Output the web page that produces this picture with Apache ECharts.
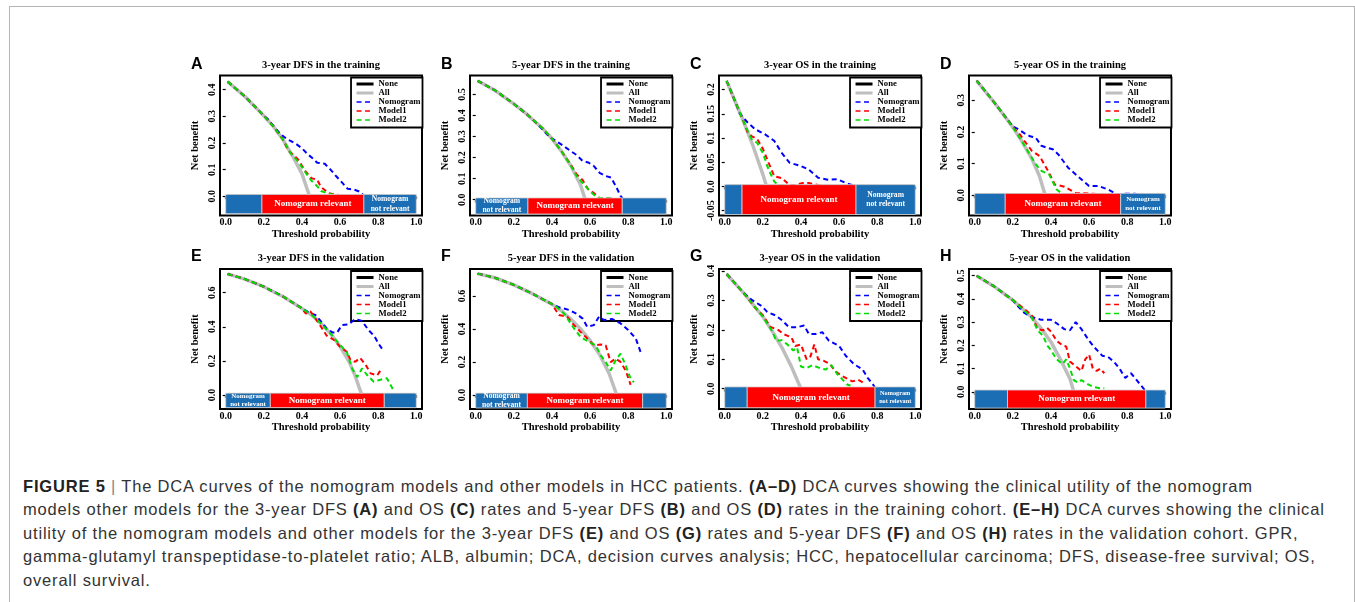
<!DOCTYPE html>
<html>
<head>
<meta charset="utf-8">
<script src="https://cdn.jsdelivr.net/npm/echarts@6/dist/echarts.min.js"></script>
<style>
body{margin:0;background:#fff;}
#wrap{position:relative;width:1355px;height:602px;overflow:hidden;background:#fff;}
#box{position:absolute;left:9px;top:6px;width:1344px;height:700px;border:1px solid #b4b4b4;}
#chart{position:absolute;left:0;top:0;width:1355px;height:462px;}
#caption{position:absolute;left:23px;top:475px;font-family:"Liberation Sans",Arial,sans-serif;font-size:16.5px;letter-spacing:0.82px;line-height:23.4px;color:#333;white-space:nowrap;}
#caption b{color:#222;}
#caption .bar{color:#888;}
</style>
</head>
<body>
<div id="wrap">
  <div id="box"></div>
  <div id="chart"></div>
  <div id="caption">
    <b>FIGURE 5</b> <span class="bar">|</span> The DCA curves of the nomogram models and other models in HCC patients. <b>(A–D)</b> DCA curves showing the clinical utility of the nomogram<br>
    models other models for the 3-year DFS <b>(A)</b> and OS <b>(C)</b> rates and 5-year DFS <b>(B)</b> and OS <b>(D)</b> rates in the training cohort. <b>(E–H)</b> DCA curves showing the clinical<br>
    utility of the nomogram models and other models for the 3-year DFS <b>(E)</b> and OS <b>(G)</b> rates and 5-year DFS <b>(F)</b> and OS <b>(H)</b> rates in the validation cohort. GPR,<br>
    gamma-glutamyl transpeptidase-to-platelet ratio; ALB, albumin; DCA, decision curves analysis; HCC, hepatocellular carcinoma; DFS, disease-free survival; OS,<br>
    overall survival.
  </div>
</div>
<script>
// ---- data ----
const panelLetters = ['A', 'B', 'C', 'D', 'E', 'F', 'G', 'H']
const panelTitles = [
    '3-year DFS in the training', '5-year DFS in the training',
    '3-year OS in the training', '5-year OS in the training',
    '3-year DFS in the validation', '5-year DFS in the validation',
    '3-year OS in the validation', '5-year OS in the validation'
]
const seriesNames = ['None', 'All', 'Nomogram', 'Model1', 'Model2']
const xTicks = [0, 0.2, 0.4, 0.6, 0.8, 1.0]
const xLabels = ['0.0', '0.2', '0.4', '0.6', '0.8', '1.0']
const noneLine = [[0.01, 0], [0.99, 0]]

// y ranges of each frame [min, max]
const yRanges = [
    [-0.072, 0.453], [-0.075, 0.59], [-0.06, 0.229], [-0.064, 0.378],
    [-0.082, 0.739], [-0.085, 0.763], [-0.069, 0.407], [-0.074, 0.529]
]
const yTicks = [
    [0, 0.1, 0.2, 0.3, 0.4],
    [0, 0.1, 0.2, 0.3, 0.4, 0.5],
    [-0.05, 0, 0.05, 0.1, 0.15, 0.2],
    [0, 0.1, 0.2, 0.3],
    [0, 0.2, 0.4, 0.6],
    [0, 0.2, 0.4, 0.6],
    [0, 0.1, 0.2, 0.3, 0.4],
    [0, 0.1, 0.2, 0.3, 0.4, 0.5]
]
const yLabels = [
    ['0.0', '0.1', '0.2', '0.3', '0.4'],
    ['0.0', '0.1', '0.2', '0.3', '0.4', '0.5'],
    ['-0.05', '0.0', '0.05', '0.1', '0.15', '0.2'],
    ['0.0', '0.1', '0.2', '0.3'],
    ['0.0', '0.2', '0.4', '0.6'],
    ['0.0', '0.2', '0.4', '0.6'],
    ['0.0', '0.1', '0.2', '0.3', '0.4'],
    ['0.0', '0.1', '0.2', '0.3', '0.4', '0.5']
]

// relevance band: [from, to, label], and its lower edge
const bandBottoms = [-0.065, -0.068, -0.058, -0.06, -0.074, -0.079, -0.065, -0.07]
const bandsA = [[0, 0.19, ''], [0.19, 0.725, 'Nomogram relevant'], [0.725, 1, 'Nomogram\nnot relevant']]
const bandsB = [[0, 0.274, 'Nomogram\nnot relevant'], [0.274, 0.769, 'Nomogram relevant'], [0.769, 1, '']]
const bandsC = [[0, 0.091, ''], [0.091, 0.689, 'Nomogram relevant'], [0.689, 1, 'Nomogram\nnot relevant']]
const bandsD = [[0, 0.16, ''], [0.16, 0.766, 'Nomogram relevant'], [0.766, 1, 'Nomogram\nnot relevant']]
const bandsE = [[0, 0.234, 'Nomogram\nnot relevant'], [0.234, 0.832, 'Nomogram relevant'], [0.832, 1, '']]
const bandsF = [[0, 0.271, 'Nomogram\nnot relevant'], [0.271, 0.876, 'Nomogram relevant'], [0.876, 1, '']]
const bandsG = [[0, 0.118, ''], [0.118, 0.789, 'Nomogram relevant'], [0.789, 1, 'Nomogram\nnot relevant']]
const bandsH = [[0, 0.172, ''], [0.172, 0.898, 'Nomogram relevant'], [0.898, 1, '']]

// A: 3-year DFS training
const aAll = [[0.01, 0.43], [0.1, 0.375], [0.2, 0.302], [0.25, 0.262], [0.3, 0.213], [0.35, 0.152], [0.4, 0.085], [0.44, 0.0]]
const aNom = [[0.01, 0.43], [0.1, 0.375], [0.2, 0.302], [0.22, 0.29], [0.26, 0.255], [0.29, 0.232], [0.32, 0.215], [0.34, 0.208], [0.37, 0.196], [0.4, 0.18], [0.43, 0.158], [0.46, 0.14], [0.48, 0.126], [0.52, 0.122], [0.55, 0.1], [0.58, 0.075], [0.61, 0.052], [0.64, 0.028], [0.67, 0.026], [0.7, 0.018], [0.73, 0.0]]
const aM1 = [[0.01, 0.43], [0.1, 0.375], [0.2, 0.302], [0.25, 0.262], [0.3, 0.213], [0.33, 0.17], [0.35, 0.158], [0.38, 0.138], [0.42, 0.092], [0.45, 0.068], [0.48, 0.062], [0.5, 0.035], [0.54, 0.012], [0.58, 0.006], [0.63, 0.002], [0.69, 0.002], [0.72, 0.0]]
const aM2 = [[0.01, 0.43], [0.1, 0.375], [0.2, 0.302], [0.25, 0.262], [0.3, 0.213], [0.34, 0.162], [0.38, 0.13], [0.42, 0.088], [0.45, 0.058], [0.48, 0.038], [0.5, 0.02], [0.54, 0.01], [0.6, 0.0], [0.67, 0.0], [0.7, 0.0]]

// B: 5-year DFS training
const bAll = [[0.01, 0.565], [0.1, 0.52], [0.2, 0.455], [0.27, 0.405], [0.3, 0.38], [0.35, 0.34], [0.4, 0.29], [0.45, 0.23], [0.5, 0.16], [0.55, 0.07], [0.575, 0.0]]
const bNom = [[0.01, 0.565], [0.1, 0.52], [0.2, 0.455], [0.27, 0.405], [0.3, 0.38], [0.35, 0.335], [0.39, 0.295], [0.42, 0.28], [0.46, 0.256], [0.5, 0.23], [0.53, 0.212], [0.56, 0.185], [0.59, 0.177], [0.62, 0.16], [0.65, 0.128], [0.68, 0.113], [0.71, 0.105], [0.735, 0.065], [0.76, 0.018], [0.775, 0.0]]
const bM1 = [[0.01, 0.565], [0.1, 0.52], [0.2, 0.455], [0.27, 0.405], [0.3, 0.38], [0.35, 0.34], [0.4, 0.29], [0.45, 0.23], [0.5, 0.165], [0.53, 0.12], [0.56, 0.095], [0.59, 0.05], [0.62, 0.032], [0.65, 0.008], [0.69, 0.008], [0.73, 0.003], [0.76, 0.0]]
const bM2 = [[0.01, 0.565], [0.1, 0.52], [0.2, 0.455], [0.27, 0.405], [0.3, 0.38], [0.35, 0.34], [0.4, 0.29], [0.45, 0.23], [0.5, 0.16], [0.53, 0.112], [0.57, 0.07], [0.6, 0.04], [0.64, 0.008], [0.68, 0.008], [0.72, 0.005], [0.75, 0.0]]

// C: 3-year OS training
const cAll = [[0.01, 0.218], [0.05, 0.18], [0.1, 0.133], [0.15, 0.082], [0.2, 0.025], [0.22, 0.0]]
const cNom = [[0.01, 0.218], [0.05, 0.18], [0.08, 0.15], [0.12, 0.132], [0.16, 0.118], [0.21, 0.108], [0.26, 0.094], [0.3, 0.069], [0.34, 0.049], [0.4, 0.042], [0.44, 0.035], [0.49, 0.018], [0.54, 0.014], [0.59, 0.015], [0.63, 0.008], [0.68, 0.001], [0.72, 0.0]]
const cM1 = [[0.01, 0.218], [0.05, 0.18], [0.1, 0.133], [0.12, 0.112], [0.14, 0.104], [0.17, 0.098], [0.2, 0.078], [0.23, 0.049], [0.26, 0.021], [0.3, 0.017], [0.34, 0.003], [0.37, 0.003], [0.41, 0.007], [0.44, 0.007], [0.49, 0.003], [0.55, 0.0]]
const cM2 = [[0.01, 0.218], [0.05, 0.18], [0.1, 0.133], [0.14, 0.098], [0.17, 0.09], [0.2, 0.069], [0.23, 0.035], [0.26, 0.01], [0.28, 0.003], [0.34, 0.0], [0.39, 0.001]]

// D: 5-year OS training
const dAll = [[0.01, 0.362], [0.1, 0.295], [0.2, 0.215], [0.25, 0.168], [0.3, 0.115], [0.34, 0.06], [0.37, 0.0]]
const dNom = [[0.01, 0.362], [0.1, 0.295], [0.2, 0.217], [0.23, 0.208], [0.26, 0.196], [0.29, 0.186], [0.32, 0.182], [0.35, 0.156], [0.38, 0.15], [0.41, 0.145], [0.44, 0.128], [0.49, 0.087], [0.55, 0.055], [0.6, 0.029], [0.65, 0.029], [0.7, 0.018], [0.75, 0.002], [0.79, 0.005], [0.84, 0.005], [0.87, 0.0]]
const dM1 = [[0.01, 0.362], [0.1, 0.295], [0.2, 0.215], [0.24, 0.19], [0.26, 0.172], [0.3, 0.14], [0.34, 0.124], [0.39, 0.071], [0.42, 0.034], [0.47, 0.027], [0.53, 0.007], [0.62, 0.005], [0.7, 0.002], [0.75, 0.0]]
const dM2 = [[0.01, 0.362], [0.1, 0.295], [0.2, 0.215], [0.25, 0.168], [0.27, 0.148], [0.32, 0.098], [0.35, 0.077], [0.39, 0.066], [0.43, 0.018], [0.47, 0.0], [0.55, 0.002], [0.62, 0.0]]

// E: 3-year DFS validation
const eAll = [[0.01, 0.71], [0.1, 0.68], [0.2, 0.635], [0.3, 0.578], [0.4, 0.508], [0.45, 0.47], [0.5, 0.42], [0.55, 0.36], [0.6, 0.285], [0.65, 0.19], [0.68, 0.11], [0.7, 0.045], [0.715, 0.0]]
const eNom = [[0.01, 0.71], [0.1, 0.68], [0.2, 0.635], [0.3, 0.578], [0.4, 0.508], [0.44, 0.48], [0.47, 0.47], [0.5, 0.432], [0.53, 0.39], [0.56, 0.367], [0.585, 0.367], [0.61, 0.41], [0.645, 0.414], [0.68, 0.446], [0.715, 0.434], [0.75, 0.38], [0.78, 0.345], [0.8, 0.305], [0.82, 0.272]]
const eM1 = [[0.01, 0.71], [0.1, 0.68], [0.2, 0.635], [0.3, 0.578], [0.4, 0.508], [0.42, 0.478], [0.445, 0.49], [0.47, 0.45], [0.5, 0.4], [0.53, 0.348], [0.57, 0.322], [0.6, 0.283], [0.635, 0.254], [0.655, 0.205], [0.68, 0.195], [0.705, 0.218], [0.735, 0.176], [0.76, 0.127], [0.795, 0.115], [0.82, 0.158]]
const eM2 = [[0.01, 0.71], [0.1, 0.68], [0.2, 0.635], [0.3, 0.578], [0.4, 0.508], [0.45, 0.47], [0.5, 0.42], [0.55, 0.36], [0.6, 0.293], [0.635, 0.254], [0.663, 0.156], [0.69, 0.105], [0.715, 0.156], [0.742, 0.117], [0.777, 0.078], [0.812, 0.09], [0.846, 0.098], [0.88, 0.028]]

// F: 5-year DFS validation
const fAll = [[0.01, 0.735], [0.1, 0.71], [0.2, 0.667], [0.3, 0.612], [0.4, 0.55], [0.45, 0.51], [0.5, 0.458], [0.55, 0.4], [0.6, 0.33], [0.65, 0.245], [0.7, 0.13], [0.74, 0.0]]
const fNom = [[0.01, 0.735], [0.1, 0.71], [0.2, 0.667], [0.3, 0.612], [0.4, 0.55], [0.44, 0.53], [0.49, 0.515], [0.525, 0.494], [0.56, 0.464], [0.585, 0.413], [0.62, 0.423], [0.647, 0.474], [0.673, 0.454], [0.717, 0.46], [0.76, 0.433], [0.8, 0.393], [0.84, 0.342], [0.865, 0.26]]
const fM1 = [[0.01, 0.735], [0.1, 0.71], [0.2, 0.667], [0.3, 0.612], [0.4, 0.55], [0.437, 0.484], [0.48, 0.474], [0.516, 0.423], [0.55, 0.382], [0.586, 0.342], [0.62, 0.301], [0.656, 0.305], [0.682, 0.301], [0.708, 0.199], [0.734, 0.22], [0.76, 0.2], [0.787, 0.148], [0.813, 0.061]]
const fM2 = [[0.01, 0.735], [0.1, 0.71], [0.2, 0.667], [0.3, 0.612], [0.4, 0.55], [0.428, 0.53], [0.463, 0.494], [0.516, 0.403], [0.55, 0.352], [0.594, 0.321], [0.629, 0.301], [0.656, 0.24], [0.682, 0.199], [0.708, 0.148], [0.734, 0.209], [0.76, 0.25], [0.787, 0.179], [0.813, 0.098], [0.83, 0.077]]

// G: 3-year OS validation
const gAll = [[0.01, 0.39], [0.1, 0.325], [0.2, 0.245], [0.25, 0.195], [0.3, 0.14], [0.35, 0.075], [0.4, 0.0]]
const gNom = [[0.01, 0.39], [0.1, 0.325], [0.144, 0.301], [0.196, 0.28], [0.223, 0.261], [0.267, 0.249], [0.302, 0.232], [0.337, 0.209], [0.381, 0.209], [0.416, 0.215], [0.442, 0.186], [0.477, 0.186], [0.512, 0.192], [0.547, 0.163], [0.6, 0.146], [0.635, 0.112], [0.679, 0.083], [0.723, 0.066], [0.749, 0.038], [0.784, 0.009], [0.79, 0.0]]
const gM1 = [[0.01, 0.39], [0.1, 0.325], [0.16, 0.275], [0.2, 0.25], [0.24, 0.21], [0.28, 0.2], [0.31, 0.185], [0.35, 0.175], [0.37, 0.145], [0.4, 0.15], [0.43, 0.1], [0.45, 0.11], [0.47, 0.15], [0.49, 0.1], [0.52, 0.095], [0.55, 0.085], [0.58, 0.06], [0.61, 0.045], [0.64, 0.035], [0.67, 0.025], [0.7, 0.03], [0.73, 0.02]]
const gM2 = [[0.01, 0.39], [0.1, 0.325], [0.2, 0.245], [0.25, 0.195], [0.27, 0.163], [0.3, 0.165], [0.33, 0.15], [0.36, 0.13], [0.38, 0.14], [0.4, 0.075], [0.43, 0.07], [0.46, 0.08], [0.5, 0.07], [0.53, 0.065], [0.56, 0.08], [0.59, 0.05], [0.62, 0.03], [0.64, 0.015], [0.66, 0.01]]

// H: 5-year OS validation
const hAll = [[0.01, 0.5], [0.1, 0.455], [0.2, 0.395], [0.3, 0.32], [0.35, 0.272], [0.4, 0.215], [0.45, 0.14], [0.5, 0.055], [0.52, 0.0]]
const hNom = [[0.01, 0.5], [0.1, 0.455], [0.2, 0.395], [0.22, 0.375], [0.26, 0.34], [0.3, 0.322], [0.35, 0.31], [0.4, 0.31], [0.43, 0.295], [0.47, 0.27], [0.5, 0.265], [0.53, 0.3], [0.56, 0.27], [0.6, 0.22], [0.63, 0.19], [0.67, 0.155], [0.7, 0.15], [0.73, 0.13], [0.76, 0.1], [0.79, 0.06], [0.82, 0.08], [0.85, 0.05], [0.88, 0.02], [0.9, 0.0]]
const hM1 = [[0.01, 0.5], [0.1, 0.455], [0.2, 0.395], [0.24, 0.37], [0.27, 0.35], [0.3, 0.33], [0.33, 0.27], [0.36, 0.265], [0.38, 0.275], [0.4, 0.26], [0.43, 0.22], [0.46, 0.2], [0.48, 0.195], [0.5, 0.13], [0.53, 0.11], [0.56, 0.09], [0.58, 0.14], [0.6, 0.16], [0.62, 0.1], [0.64, 0.09], [0.66, 0.1], [0.68, 0.08]]
const hM2 = [[0.01, 0.5], [0.1, 0.455], [0.2, 0.395], [0.3, 0.32], [0.33, 0.265], [0.36, 0.24], [0.38, 0.2], [0.4, 0.18], [0.43, 0.14], [0.46, 0.12], [0.48, 0.14], [0.5, 0.1], [0.52, 0.05], [0.54, 0.04], [0.56, 0.05], [0.58, 0.04], [0.6, 0.03], [0.63, 0.02], [0.66, 0.015], [0.68, 0.015]]

const curves = [
    [aAll, aNom, aM1, aM2], [bAll, bNom, bM1, bM2], [cAll, cNom, cM1, cM2], [dAll, dNom, dM1, dM2],
    [eAll, eNom, eM1, eM2], [fAll, fNom, fM1, fM2], [gAll, gNom, gM1, gM2], [hAll, hNom, hM1, hM2]
]
const bands = [bandsA, bandsB, bandsC, bandsD, bandsE, bandsF, bandsG, bandsH]

// ---- layout / style ----
const colLefts = [220, 470, 719, 969]
const rowTops = [75.5, 269]
const gridW = 202
const gridH = 140
const SERIF = '"Liberation Serif", "Times New Roman", serif'
const BLUE = '#1b6db4'
const RED = '#ff0000'
const lineColors = ['#000000', '#bebebe', '#0000ff', '#ff0000', '#00dd00']
const lineWidths = [3.5, 3.5, 2, 2, 2]

const chart = echarts.init(document.getElementById('chart'), null, {renderer: 'canvas'})

const grid = [], xAxis = [], yAxis = [], series = [], legend = [], graphic = []

panelLetters.forEach((letter, i) => {
    const left = colLefts[i % 4]
    const top = rowTops[Math.floor(i / 4)]

    grid.push({left, top, width: gridW, height: gridH, show: true, borderColor: '#000', borderWidth: 2, backgroundColor: 'transparent'})

    xAxis.push({
        type: 'value', gridIndex: i, min: -0.03, max: 1.03,
        name: 'Threshold probability', nameLocation: 'middle', nameGap: 13,
        nameTextStyle: {fontFamily: SERIF, fontWeight: 'bold', fontSize: 10.5, color: '#000', verticalAlign: 'top'},
        axisLine: {show: false}, splitLine: {show: false},
        axisTick: {show: true, customValues: xTicks, length: 3, lineStyle: {color: '#000', width: 1.2}},
        axisLabel: {
            customValues: xTicks, margin: 2, color: '#000',
            fontFamily: SERIF, fontWeight: 'bold', fontSize: 10,
            formatter: v => xLabels[xTicks.findIndex(t => Math.abs(t - v) < 1e-6)]
        }
    })

    const yt = yTicks[i], yl = yLabels[i]
    yAxis.push({
        type: 'value', gridIndex: i, min: yRanges[i][0], max: yRanges[i][1],
        name: 'Net benefit', nameLocation: 'middle', nameGap: 19, nameRotate: 90,
        nameTextStyle: {fontFamily: SERIF, fontWeight: 'bold', fontSize: 10.5, color: '#000'},
        axisLine: {show: false}, splitLine: {show: false},
        axisTick: {show: true, customValues: yt, length: 3, lineStyle: {color: '#000', width: 1.2}},
        axisLabel: {
            customValues: yt, rotate: 90, margin: 3, color: '#000',
            fontFamily: SERIF, fontWeight: 'bold', fontSize: 10,
            formatter: v => yl[yt.findIndex(t => Math.abs(t - v) < 1e-6)]
        }
    })

    const [all, nom, m1, m2] = curves[i]
    const lines = [noneLine, all, nom, m1, m2]
    lines.forEach((d, k) => {
        series.push({
            type: 'line', name: seriesNames[k], xAxisIndex: i, yAxisIndex: i,
            data: d, symbol: 'none', silent: true, z: 2 + k,
            color: lineColors[k],
            itemStyle: {color: lineColors[k]},
            lineStyle: {
                color: lineColors[k],
                width: lineWidths[k],
                type: k < 2 ? 'solid' : [5, 3.5],
                cap: 'butt'
            }
        })
    })

    const bb = bandBottoms[i]
    const bl = bands[i]
    series.push({
        type: 'custom', xAxisIndex: i, yAxisIndex: i, z: 20, silent: true,
        data: bl.map(b => [b[0], b[1]]),
        renderItem: (params, api) => {
            const b = bl[params.dataIndex]
            const p0 = api.coord([api.value(0), 0])
            const p1 = api.coord([api.value(1), bb])
            // lift the top edge a hair so the thick "None" line at 0 stays hidden
            const y0 = p0[1] - 1.8
            const w = p1[0] - p0[0], h = p1[1] - y0
            const rel = b[2] === 'Nomogram relevant'
            const children = [{
                type: 'rect', shape: {x: p0[0], y: y0, width: w, height: h},
                style: {fill: rel ? RED : BLUE, stroke: '#d4d4d4', lineWidth: 0.8}
            }]
            if (b[2]) {
                const fs = rel ? 9 : Math.min(7.6, w / 6.4)
                children.push({
                    type: 'text',
                    style: {
                        text: b[2], x: p0[0] + w / 2, y: y0 + h / 2,
                        fill: '#fff', fontFamily: SERIF, fontWeight: 'bold', fontSize: fs,
                        lineHeight: fs + 1.5, align: 'center', verticalAlign: 'middle'
                    }
                })
            }
            return {type: 'group', children}
        }
    })

    legend.push({
        orient: 'vertical', right: 1355 - (left + gridW) - 0.5, top: top + 2,
        data: seriesNames.map((name, k) => ({name, lineStyle: {width: lineWidths[k] - 0.5}})),
        selectedMode: false,
        itemWidth: 17, itemHeight: 7, itemGap: 0,
        itemStyle: {opacity: 0},
        padding: [2, 2, 3, 4], borderColor: '#000', borderWidth: 1.8, backgroundColor: '#fff',
        textStyle: {fontFamily: SERIF, fontWeight: 'bold', fontSize: 8.7, lineHeight: 7.3, color: '#000'}
    })

    graphic.push({
        type: 'text', left: left - 29, top: top - (i < 4 ? 19 : 20),
        style: {text: letter, font: 'bold 16px "Liberation Sans", Arial, sans-serif', fill: '#000'}
    })
    graphic.push({
        type: 'text', x: left + gridW / 2, y: top - 10.5,
        style: {text: panelTitles[i], fontFamily: SERIF, fontWeight: 'bold', fontSize: 10.5, fill: '#000', align: 'center', verticalAlign: 'middle'}
    })
})

chart.setOption({
    animation: false,
    grid, xAxis, yAxis, series, legend, graphic
})
</script>
</body>
</html>
